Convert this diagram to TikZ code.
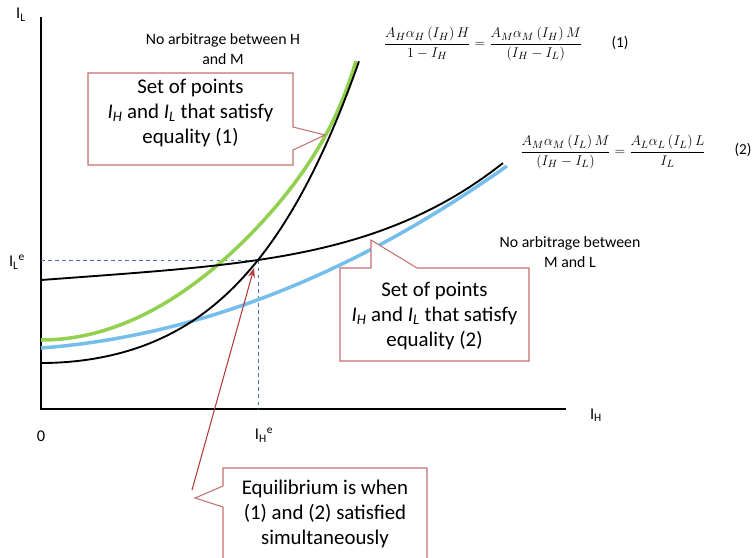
\documentclass[tikz,border=0pt]{standalone}
\usepackage{amsmath}
\usepackage{fontspec}
\setmainfont{Carlito}
\usetikzlibrary{arrows.meta}
\definecolor{cgreen}{RGB}{146,208,80}
\definecolor{cblue}{RGB}{117,190,235}
\definecolor{cdash}{RGB}{68,114,196}
\definecolor{cbox}{RGB}{196,112,112}
\definecolor{carrow}{RGB}{178,58,58}
\begin{document}
\begin{tikzpicture}[x=0.03cm,y=-0.03cm,
  axisline/.style={line width=2.2pt,black},
  blackcurve/.style={line width=1.6pt,black},
  colcurve/.style={line width=3pt},
  guide/.style={cdash,dashed,line width=0.8pt},
  callout/.style={draw=cbox,line width=0.9pt,fill=white,line join=miter},
  calltext/.style={align=center,font=\fontsize{17.8}{21.3}\selectfont,inner sep=0pt},
  note/.style={align=center,font=\fontsize{13.5}{17}\selectfont,inner sep=0pt},
  axlabel/.style={font=\fontsize{14}{16}\selectfont,inner sep=0pt},
  eqtext/.style={font=\fontsize{12.8}{15}\selectfont,inner sep=0pt},
  eqnum/.style={font=\fontsize{13}{15}\selectfont,inner sep=0pt}]
\useasboundingbox (0,0) rectangle (755,557);

% axes
\coordinate (O) at (41,409);
\coordinate (ytop) at (41,17);
\coordinate (xend) at (566,409);
\draw[axisline] (ytop) -- (O) -- (xend);

% equilibrium
\coordinate (E) at (258,260);
\coordinate (Ey) at (41,260);
\coordinate (Ex) at (258,409);
\draw[guide] (Ey) -- (E) -- (Ex);

% curves
\draw[colcurve,cgreen] plot[domain=0:3.15,samples=100,variable=\v] ({41+100*\v},{340-24*\v*\v-41*exp(4.5*(\v-3.15))});
\draw[colcurve,cblue] plot[domain=0:4.66,samples=100,variable=\v] ({41+100*\v},{348-7.56*\v-6.76*\v*\v});
\draw[blackcurve] plot[domain=0:3.18,samples=100,variable=\v] ({41+100*\v},{363-14.93*\v*\v-1.474*\v*\v*\v*\v});
\draw[blackcurve] plot[domain=0:4.62,samples=100,variable=\v] ({41+100*\v},{280-7.355*\v-0.1822*\v*\v*\v*\v});

% callout 1
\draw[callout] (88,73) -- (293,73) -- (293,127) -- (325,135) -- (293,150) -- (293,165) -- (88,165) -- cycle;
\node[calltext] (c1) at (190.5,113) {Set of points\\\textit{I\textsubscript{H}} and \textit{I\textsubscript{L}} that satisfy\\equality (1)};

% callout 2
\draw[callout] (340,268) -- (371,268) -- (371,240) -- (417,268) -- (529,268) -- (529,361) -- (340,361) -- cycle;
\node[calltext] (c2) at (434.5,316) {Set of points\\\textit{I\textsubscript{H}} and \textit{I\textsubscript{L}} that satisfy\\equality (2)};

% callout 3
\draw[callout] (223,468) -- (427,468) -- (427,570) -- (223,570) -- (223,507) -- (195,498) -- (223,486) -- cycle;
\node[calltext] (c3) at (325,514) {Equilibrium is when\\(1) and (2) satisfied\\simultaneously};

% arrow
\coordinate (atail) at (192,490);
\coordinate (ahead) at (254,268);
\draw[carrow,line width=0.9pt,-{Stealth[length=8pt,width=6pt]}] (atail) -- (ahead);

% notes
\node[note] (n1) at (223,49) {No arbitrage between H\\and M};
\node[note] (n2) at (570,252) {No arbitrage between\\M and L};

% equations
\node[eqtext] (eq1) at (483,44) {$\dfrac{A_H\alpha_H\left(I_H\right)H}{1-I_H}=\dfrac{A_M\alpha_M\left(I_H\right)M}{\left(I_H-I_L\right)}$};
\node[eqnum] (q1) at (620,43) {(1)};
\node[eqtext] (eq2) at (613,152) {$\dfrac{A_M\alpha_M\left(I_L\right)M}{\left(I_H-I_L\right)}=\dfrac{A_L\alpha_L\left(I_L\right)L}{I_L}$};
\node[eqnum] (q2) at (743,150) {(2)};

% axis labels
\node[axlabel] (lIL) at (21,15) {I\textsubscript{L}};
\node[axlabel] (lILe) at (17,262) {I\textsubscript{L}\textsuperscript{e}};
\node[axlabel] (lIH) at (596,415) {I\textsubscript{H}};
\node[axlabel] (lIHe) at (264,435) {I\textsubscript{H}\textsuperscript{e}};
\node[axlabel] (l0) at (41,436) {0};
\end{tikzpicture}
\end{document}
